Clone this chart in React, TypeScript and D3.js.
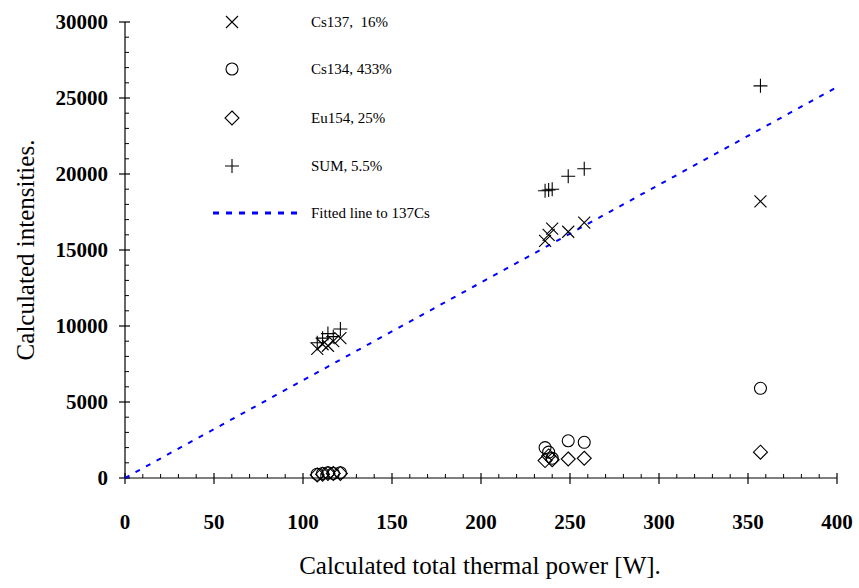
import React, { useEffect, useRef } from "react";
import * as d3 from "d3";

// thermal power [W] per measurement
const power = [108, 111, 114, 117, 121, 236, 238, 240, 249, 258, 357];
const cs137 = [8500, 8800, 8700, 9000, 9200, 15600, 16000, 16400, 16200, 16800, 18200];
const cs134 = [250, 300, 350, 300, 350, 2000, 1700, 1300, 2450, 2350, 5900];
const eu154 = [200, 250, 300, 300, 300, 1150, 1450, 1200, 1250, 1300, 1700];
const sum = [8900, 9200, 9500, 9300, 9800, 18900, 18950, 19000, 19850, 20350, 25800];
const fitSlope = 64.3;

const legendLabels = ["Cs137,  16%", "Cs134, 433%", "Eu154, 25%", "SUM, 5.5%"];
const xTicks = [0, 50, 100, 150, 200, 250, 300, 350, 400];
const yTicks = [0, 5000, 10000, 15000, 20000, 25000, 30000];

const FONT = "'Liberation Serif', 'DejaVu Serif', serif";

function marker(g: any, kind: string, x: number, y: number) {
  const s = 6;
  if (kind === "x") {
    g.append("path").attr("d", `M${x - s},${y - s}L${x + s},${y + s}M${x - s},${y + s}L${x + s},${y - s}`)
      .attr("stroke", "#000").attr("stroke-width", 1.1).attr("fill", "none");
  } else if (kind === "o") {
    g.append("circle").attr("cx", x).attr("cy", y).attr("r", 6)
      .attr("stroke", "#000").attr("stroke-width", 1.1).attr("fill", "none");
  } else if (kind === "d") {
    g.append("path").attr("d", `M${x},${y - 7}L${x + 7},${y}L${x},${y + 7}L${x - 7},${y}Z`)
      .attr("stroke", "#000").attr("stroke-width", 1.1).attr("fill", "none");
  } else {
    g.append("path").attr("d", `M${x - 7},${y}L${x + 7},${y}M${x},${y - 7}L${x},${y + 7}`)
      .attr("stroke", "#000").attr("stroke-width", 1.1).attr("fill", "none");
  }
}

export default function App() {
  const ref = useRef<SVGSVGElement>(null);

  useEffect(() => {
    const svg = d3.select(ref.current);
    svg.selectAll("*").remove();

    const x = d3.scaleLinear().domain([0, 400]).range([125, 837]);
    const y = d3.scaleLinear().domain([0, 30000]).range([478, 22]);

    const ax = svg.append("g");
    // axis lines
    ax.append("line").attr("x1", x(0)).attr("x2", x(400)).attr("y1", y(0)).attr("y2", y(0))
      .attr("stroke", "#000").attr("stroke-width", 1.2);
    ax.append("line").attr("x1", x(0)).attr("x2", x(0)).attr("y1", y(0)).attr("y2", y(30000))
      .attr("stroke", "#000").attr("stroke-width", 1.2);

    // minor ticks
    d3.range(10, 400, 10).filter((v) => v % 50 !== 0).forEach((v) => {
      ax.append("line").attr("x1", x(v)).attr("x2", x(v)).attr("y1", y(0)).attr("y2", y(0) - 4)
        .attr("stroke", "#000").attr("stroke-width", 1);
    });
    d3.range(1000, 30000, 1000).filter((v) => v % 5000 !== 0).forEach((v) => {
      ax.append("line").attr("x1", x(0)).attr("x2", x(0) + 4).attr("y1", y(v)).attr("y2", y(v))
        .attr("stroke", "#000").attr("stroke-width", 1);
    });

    xTicks.forEach((v) => {
      ax.append("line").attr("x1", x(v)).attr("x2", x(v)).attr("y1", y(0) - 5).attr("y2", y(0) + 6)
        .attr("stroke", "#000").attr("stroke-width", 1.2);
      ax.append("text").attr("x", x(v)).attr("y", 529).attr("text-anchor", "middle")
        .attr("font-family", FONT).attr("font-weight", "bold").attr("font-size", 21).text(v);
    });
    yTicks.forEach((v) => {
      ax.append("line").attr("x1", x(0) - 6).attr("x2", x(0) + 5).attr("y1", y(v)).attr("y2", y(v))
        .attr("stroke", "#000").attr("stroke-width", 1.2);
      ax.append("text").attr("x", 108).attr("y", y(v) + 7).attr("text-anchor", "end")
        .attr("font-family", FONT).attr("font-weight", "bold").attr("font-size", 21).text(v);
    });

    // axis titles
    svg.append("text").attr("x", 480).attr("y", 574).attr("text-anchor", "middle")
      .attr("font-family", FONT).attr("font-size", 25).text("Calculated total thermal power [W].");
    svg.append("text").attr("transform", "translate(34,250) rotate(-90)").attr("text-anchor", "middle")
      .attr("font-family", FONT).attr("font-size", 25).text("Calculated intensities.");

    // fitted line
    svg.append("path")
      .datum([0, 400])
      .attr("d", d3.line<number>().x((d) => x(d)).y((d) => y(d * fitSlope)))
      .attr("stroke", "#0000ff").attr("stroke-width", 2).attr("stroke-dasharray", "5,7").attr("fill", "none");

    const pts = svg.append("g");
    const series: [number[], string][] = [[cs137, "x"], [cs134, "o"], [eu154, "d"], [sum, "+"]];
    series.forEach(([vals, kind]) => {
      vals.forEach((v, i) => marker(pts, kind, x(power[i]), y(v)));
    });

    // legend
    const lg = svg.append("g");
    const ly = [22, 69, 118, 166];
    series.forEach(([, kind], i) => {
      marker(lg, kind, 232, ly[i]);
      lg.append("text").attr("x", 311).attr("y", ly[i] + 5).attr("font-family", FONT)
        .attr("font-size", 15).style("white-space", "pre").text(legendLabels[i]);
    });
    lg.append("line").attr("x1", 213).attr("x2", 300).attr("y1", 213).attr("y2", 213)
      .attr("stroke", "#0000ff").attr("stroke-width", 3).attr("stroke-dasharray", "6,7");
    lg.append("text").attr("x", 311).attr("y", 218).attr("font-family", FONT)
      .attr("font-size", 15).text("Fitted line to 137Cs");
  }, []);

  return (
    <svg ref={ref} width={859} height={588} style={{ position: "absolute", left: 0, top: 0, background: "#fff" }} />
  );
}
